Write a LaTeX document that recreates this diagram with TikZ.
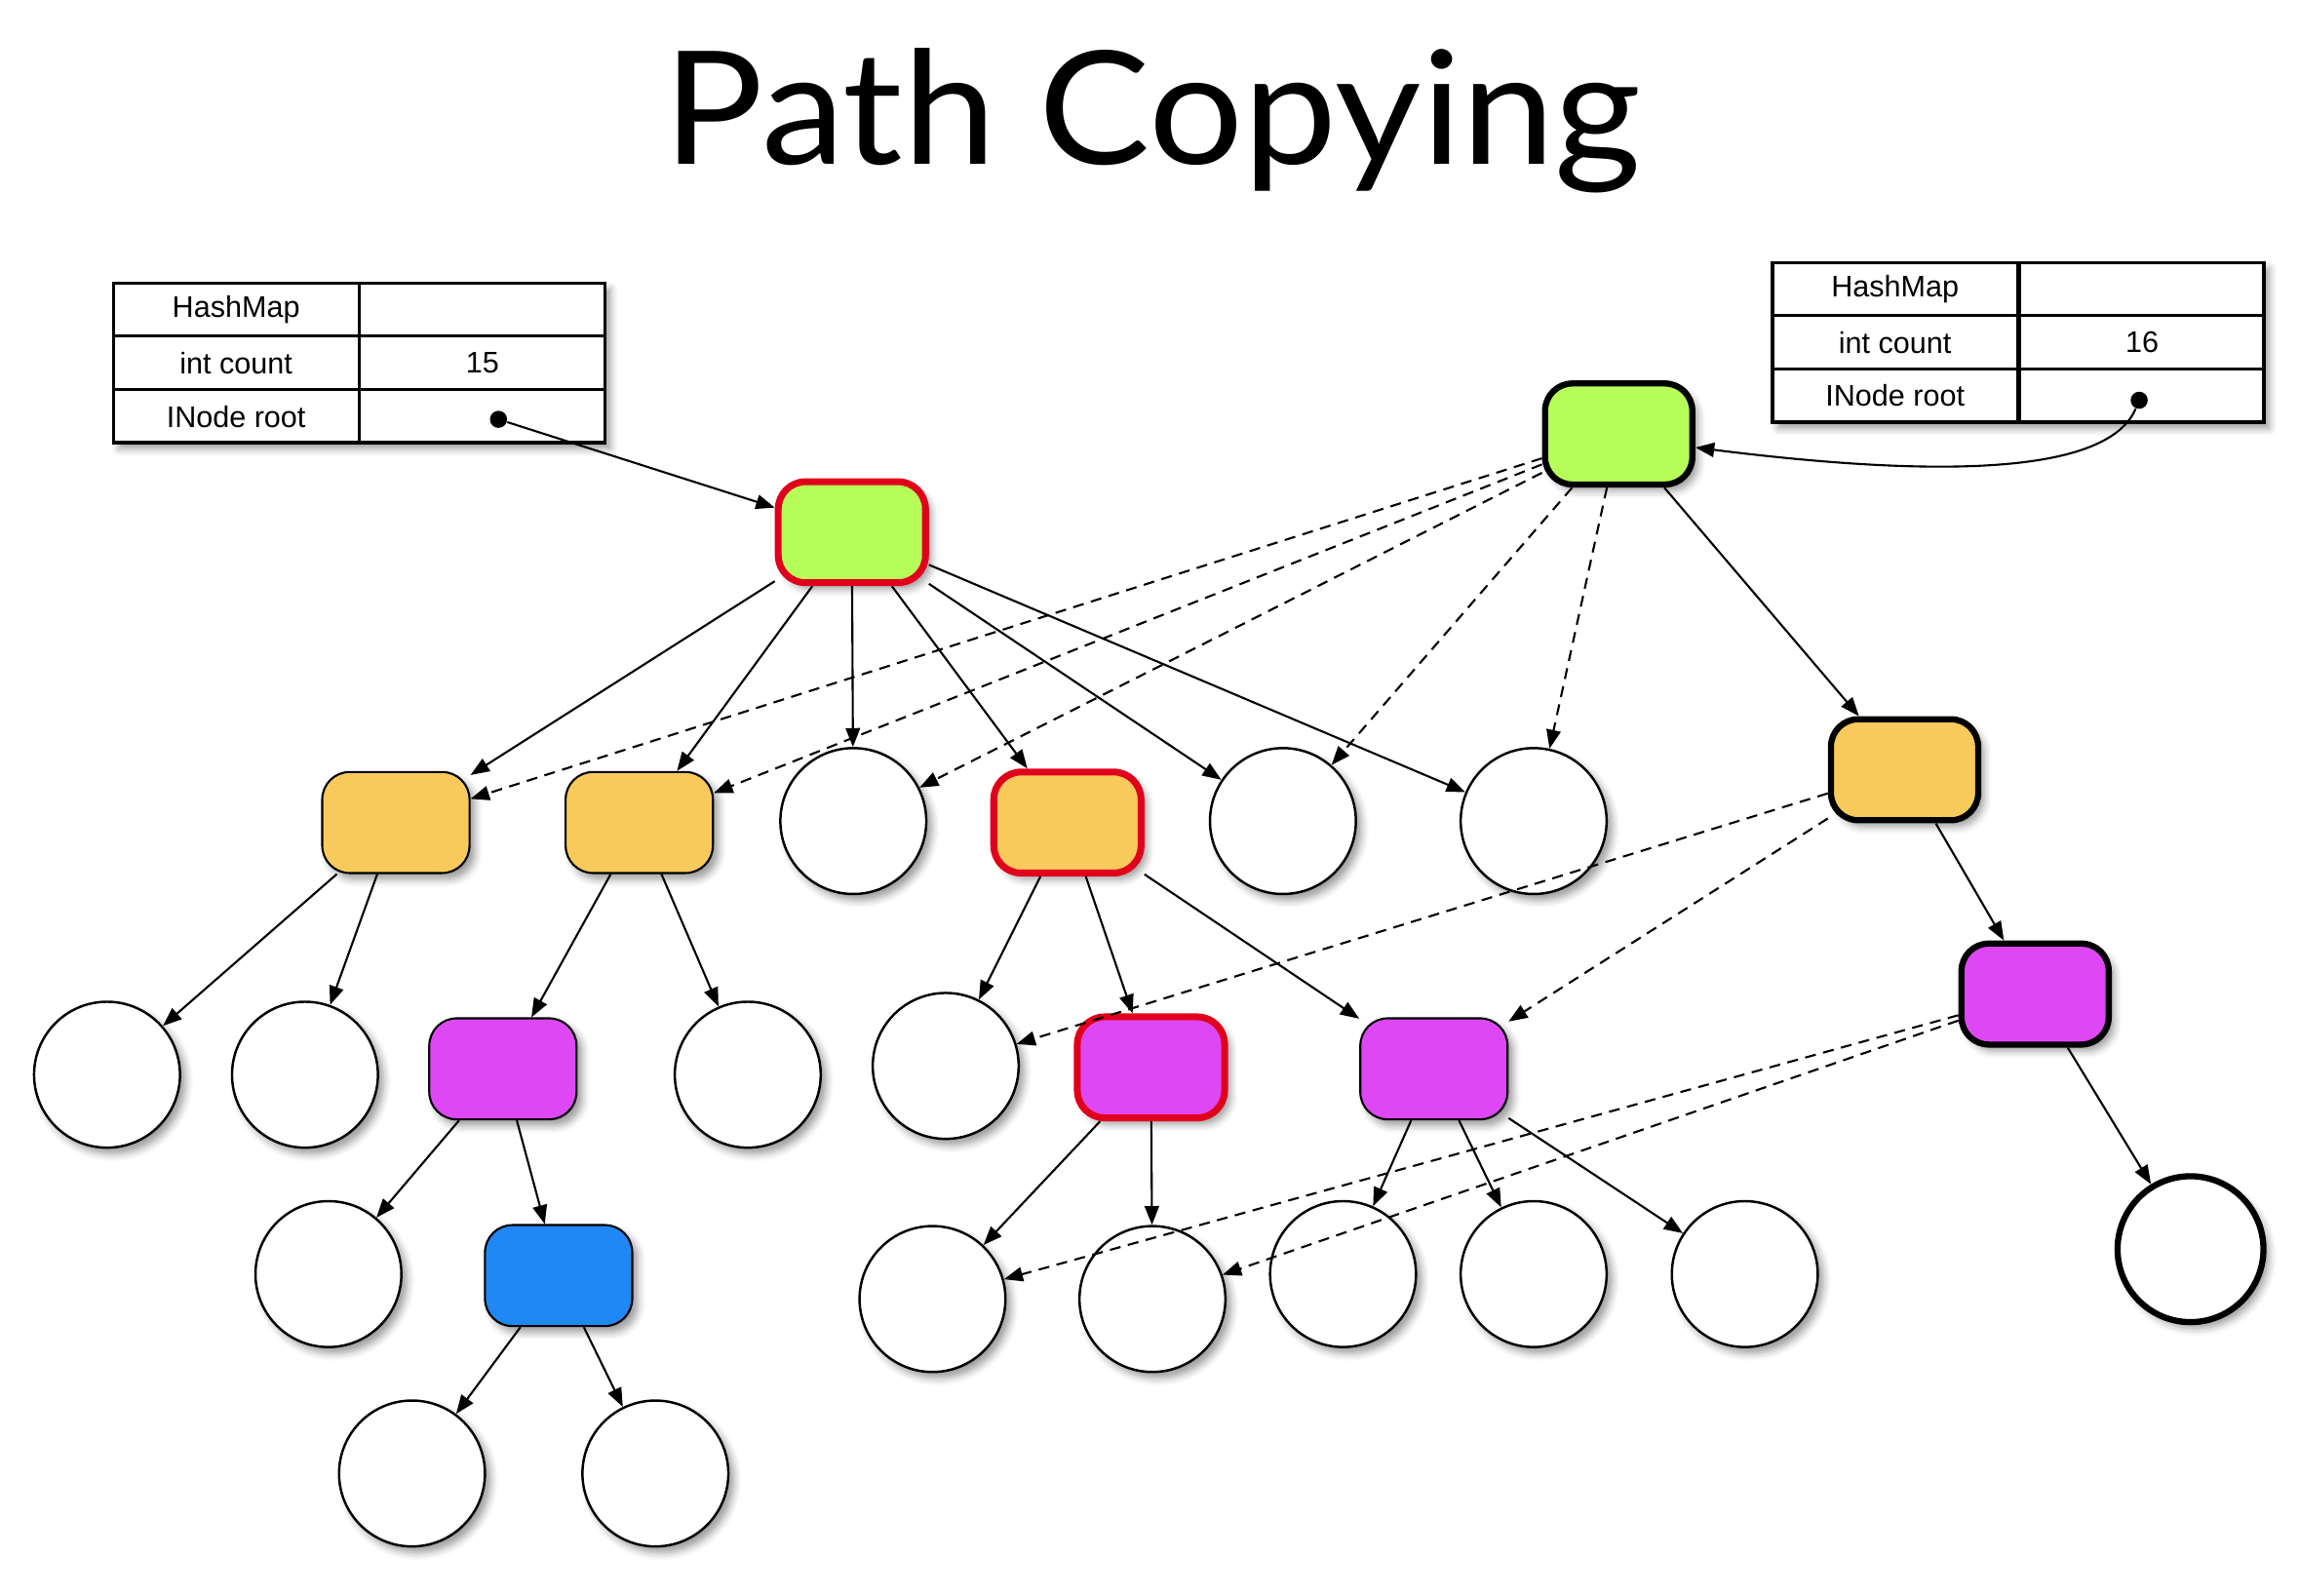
\documentclass[tikz,border=0pt]{standalone}
\usepackage{fontspec}
\setmainfont{Liberation Sans}
\newfontfamily\titlefont{Lato}
\usetikzlibrary{arrows.meta,shadows,shadows.blur}
\definecolor{cgreen}{RGB}{183,253,90}
\definecolor{corange}{RGB}{248,202,92}
\definecolor{cmag}{RGB}{222,72,244}
\definecolor{cblue}{RGB}{32,136,245}
\definecolor{cred}{RGB}{224,0,28}
\begin{document}
\begin{tikzpicture}[x=0.01504cm,y=-0.01504cm,
  shad/.style={blur shadow={shadow xshift=1.6pt,shadow yshift=-1.8pt,shadow blur radius=2.2pt,shadow opacity=40}},
  box/.style={draw=black,line width=0.6pt,rounded corners=8pt,minimum width=43pt,minimum height=29.5pt,inner sep=0pt,shad},
  redb/.style={draw=cred,line width=2pt},
  blkb/.style={draw=black,line width=1.8pt},
  circ/.style={circle,draw=black,fill=white,line width=0.7pt,minimum size=42.6pt,inner sep=0pt,shad},
  tab/.style={draw=black,fill=white,line width=0.8pt,minimum width=143.3pt,minimum height=46.5pt,inner sep=0pt,shad},
  cell/.style={draw=black,line width=0.8pt,minimum width=71.65pt,minimum height=15.5pt,inner sep=0pt,font=\fontsize{8.7}{10}\selectfont},
  dot/.style={circle,fill=black,minimum size=5pt,inner sep=0pt},
  arr/.style={-{Triangle[length=5.5pt,width=4.2pt]},line width=0.6pt,black},
  darr/.style={arr,dash pattern=on 3.2pt off 2.2pt}]
\useasboundingbox (0,0) rectangle (1568,1088);

% title
\node[font=\titlefont\fontsize{46}{50}\selectfont,anchor=base] (title) at (786,112) {\scalebox{1.06}[1]{Path Copying}};

% left table
\node[tab] (lt) at (245,247.5) {};
\node[cell] (l11) at (161,211) {HashMap};
\node[cell] (l12) at (329,211) {};
\node[cell] (l21) at (161,247.5) {int count};
\node[cell] (l22) at (329,247.5) {15};
\node[cell] (l31) at (161,284) {INode root};
\node[cell] (l32) at (329,284) {};
\node[dot] (d1) at (340,286) {};

% right table
\node[tab] (rt) at (1376.5,233.5) {};
\node[cell] (r11) at (1292.5,197) {HashMap};
\node[cell] (r12) at (1461,197) {};
\node[cell] (r21) at (1292.5,233.5) {int count};
\node[cell] (r22) at (1461,233.5) {16};
\node[cell] (r31) at (1292.5,270) {INode root};
\node[cell] (r32) at (1461,270) {};
\node[dot] (d2) at (1459,273) {};

% level 1
\node[box,fill=cgreen,redb] (G1) at (581,363) {};
\node[box,fill=cgreen,blkb] (G2) at (1104,296) {};

% level 2
\node[box,fill=corange] (O1) at (270,561) {};
\node[box,fill=corange] (O2) at (436,561) {};
\node[circ] (C1) at (582,560) {};
\node[box,fill=corange,redb] (O3) at (728,561) {};
\node[circ] (C2) at (875,560) {};
\node[circ] (C3) at (1046,560) {};
\node[box,fill=corange,blkb] (O4) at (1299,525) {};

% level 3
\node[circ] (C4) at (73,733) {};
\node[circ] (C5) at (208,733) {};
\node[box,fill=cmag] (P1) at (343,729) {};
\node[circ] (C6) at (510,733) {};
\node[circ] (C7) at (645,727) {};
\node[box,fill=cmag,redb] (P2) at (785,728) {};
\node[box,fill=cmag] (P3) at (978,729) {};
\node[box,fill=cmag,blkb] (P4) at (1388,678) {};

% level 4
\node[circ] (C8) at (224,869) {};
\node[box,fill=cblue] (B1) at (381,870) {};
\node[circ] (C9) at (636,886) {};
\node[circ] (C10) at (786,886) {};
\node[circ] (C11) at (916,869) {};
\node[circ] (C12) at (1046,869) {};
\node[circ] (C13) at (1190,869) {};
\node[circ,line width=1.8pt] (C14) at (1494,852) {};

% level 5
\node[circ] (C15) at (281,1005) {};
\node[circ] (C16) at (447,1005) {};

% pointers
\draw[arr] (d1) -- (G1);
\draw[arr] (d2) .. controls (1435,330) and (1290,322) .. (G2.-10);

% solid edges, old tree
\foreach \a/\b in {G1/O1,G1/O2,G1/C1,G1/O3,G1/C2,G1/C3,
                   O1/C4,O1/C5,O2/P1,O2/C6,P1/C8,P1/B1,B1/C15,B1/C16,
                   O3/C7,O3/P2,O3/P3,P2/C9,P2/C10,P3/C11,P3/C12,P3/C13,
                   G2/O4,O4/P4,P4/C14}
  \draw[arr] (\a) -- (\b);

% dashed edges, shared structure
\foreach \a/\b in {G2/O1,G2/O2,G2/C1,G2/C2,G2/C3,O4/C7,O4/P3,P4/C9,P4/C10}
  \draw[darr] (\a) -- (\b);
\end{tikzpicture}
\end{document}
